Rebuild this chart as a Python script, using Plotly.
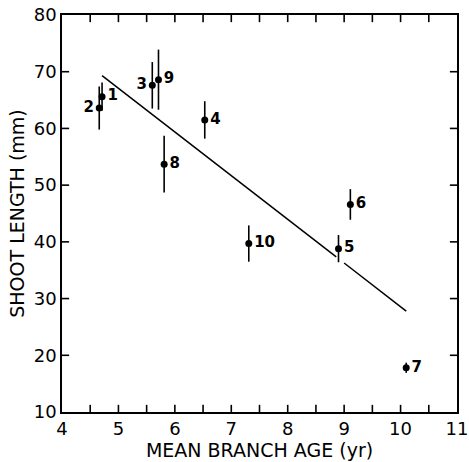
import plotly.graph_objects as go

# data
labels = ["1", "2", "3", "4", "5", "6", "7", "8", "9", "10"]
age = [4.71, 4.66, 5.60, 6.53, 8.90, 9.11, 10.10, 5.81, 5.71, 7.31]
shoot = [65.6, 63.6, 67.6, 61.5, 38.8, 46.6, 17.8, 53.7, 68.6, 39.7]
err = [2.5, 3.8, 4.1, 3.3, 2.4, 2.7, 0.9, 5.0, 5.3, 3.2]
label_pos = ["middle right", "middle left", "middle left", "middle right", "middle right",
             "middle right", "middle right", "middle right", "middle right", "middle right"]

# regression line (start, gap around point 5, end)
fit_x0, fit_y0 = 4.71, 69.3
fit_x1, fit_y1 = 10.10, 27.8
gap_x = [8.86, 9.0]

# axis ranges and tick positions
x_range = [4, 11]
y_range = [10, 80]
x_minor_ticks = [4 + 0.5 * i for i in range(1, 14)]
y_ticks = [20, 30, 40, 50, 60, 70]

slope = (fit_y1 - fit_y0) / (fit_x1 - fit_x0)
def fy(x):
    return fit_y0 + slope * (x - fit_x0)

line_x = [fit_x0, gap_x[0], None, gap_x[1], fit_x1]
line_y = [fy(x) if x is not None else None for x in line_x]

FONT = "DejaVu Sans, Liberation Sans, Arial, sans-serif"
TICK_FRAC = 0.018  # tick length as a fraction of the plot area

fig = go.Figure()
fig.add_trace(go.Scatter(x=line_x, y=line_y, mode="lines",
                         line=dict(color="black", width=1.5), showlegend=False,
                         connectgaps=False, hoverinfo="skip"))
fig.add_trace(go.Scatter(
    x=age, y=shoot, mode="markers+text", text=labels, textposition=label_pos,
    textfont=dict(family=FONT, size=15, color="black", weight="bold"),
    marker=dict(color="black", size=7),
    error_y=dict(type="data", array=err, color="black", thickness=1.6, width=0),
    showlegend=False))

# inside tick marks on the four frame edges
tick_line = dict(color="black", width=1.6)
for xv in x_minor_ticks:
    fig.add_shape(type="line", xref="x", yref="y domain", x0=xv, x1=xv,
                  y0=0, y1=TICK_FRAC, line=tick_line)
    fig.add_shape(type="line", xref="x", yref="y domain", x0=xv, x1=xv,
                  y0=1, y1=1 - TICK_FRAC, line=tick_line)
for yv in y_ticks:
    fig.add_shape(type="line", xref="x domain", yref="y", x0=0, x1=TICK_FRAC,
                  y0=yv, y1=yv, line=tick_line)
    fig.add_shape(type="line", xref="x domain", yref="y", x0=1, x1=1 - TICK_FRAC,
                  y0=yv, y1=yv, line=tick_line)

fig.update_layout(
    width=469, height=462,
    margin=dict(l=62, r=12, t=15, b=50),
    plot_bgcolor="white", paper_bgcolor="white",
    font=dict(family=FONT, color="black"),
    xaxis=dict(range=x_range, tickmode="linear", tick0=4, dtick=1, ticks="",
               showline=True, linecolor="black", linewidth=1.5, mirror=True,
               showgrid=False, zeroline=False, tickfont=dict(size=18), automargin=False,
               title=dict(text="MEAN BRANCH AGE (yr)", font=dict(size=19), standoff=4)),
    yaxis=dict(range=y_range, tickmode="linear", tick0=10, dtick=10, ticks="",
               showline=True, linecolor="black", linewidth=1.5, mirror=True,
               showgrid=False, zeroline=False, tickfont=dict(size=18), automargin=False,
               title=dict(text="SHOOT LENGTH (mm)", font=dict(size=19), standoff=4)),
)

fig.write_html("out.html")
